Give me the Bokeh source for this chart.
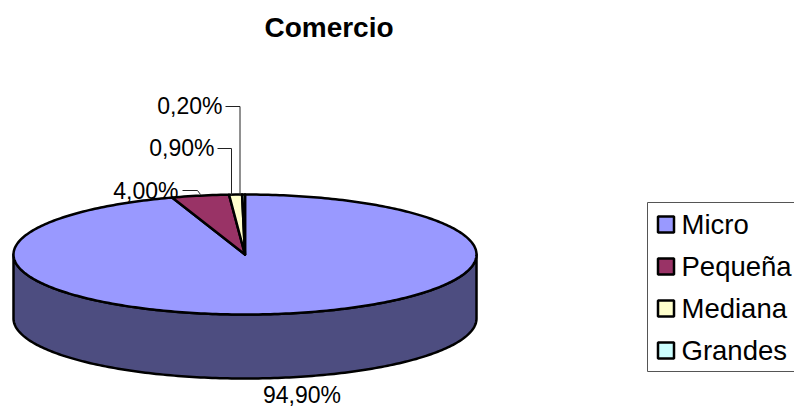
import numpy as np
from bokeh.plotting import figure
from bokeh.models import Range1d
from bokeh.core.properties import value
from bokeh.embed import file_html
from bokeh.resources import INLINE

title = "Comercio"
categories = ["Micro", "Pequeña", "Mediana", "Grandes"]
shares = [94.9, 4.0, 0.9, 0.2]
labels = ["94,90%", "4,00%", "0,90%", "0,20%"]
colors = ["#9999FF", "#993366", "#FFFFCC", "#CCFFFF"]
side_color = "#4D4D80"

FONT = value("Liberation Sans")
CX, CY, RX, RY, DEPTH = 244.5, 254, 231.5, 60, 64

p = figure(width=794, height=408, output_backend="svg", toolbar_location=None,
           x_range=Range1d(0, 794), y_range=Range1d(408, 0),
           x_axis_location=None, y_axis_location=None, min_border=0,
           outline_line_color=None, background_fill_color="white",
           border_fill_color="white")
p.grid.visible = False


def arc(a0, a1, dy=0.0):
    t = np.linspace(a0, a1, max(2, int(abs(a1 - a0) * 60)))
    return CX + RX * np.sin(t), CY + dy - RY * np.cos(t)


# side wall (visible lower half of the disc)
xa, ya = arc(np.pi / 2, 3 * np.pi / 2)
xb, yb = arc(3 * np.pi / 2, np.pi / 2, DEPTH)
p.patch(np.r_[xa, xb], np.r_[ya, yb], fill_color=side_color,
        line_color="black", line_width=2.5, line_join="round")

# top face wedges
cum = np.cumsum([0] + shares) / sum(shares) * 2 * np.pi
for i, c in enumerate(colors):
    xs, ys = arc(cum[i], cum[i + 1])
    p.patch(np.r_[CX, xs], np.r_[CY, ys], fill_color=c, line_color="black",
            line_width=2.5, line_join="round")

# leader lines
leader_color = "#222222"
p.line([182, 197, 200], [190, 190, 194], line_color=leader_color, line_width=1)
p.line([217, 231, 231], [148, 148, 195], line_color=leader_color, line_width=1)
p.line([225, 239.5, 239.5], [106, 106, 195], line_color=leader_color, line_width=1)

# data labels
p.text([301.5], [394], text=[labels[0]], text_font=FONT, text_font_size="23px",
       text_align="center", text_baseline="middle", text_color="black")
p.text([178], [190], text=[labels[1]], text_font=FONT, text_font_size="23px",
       text_align="right", text_baseline="middle", text_color="black")
p.text([214], [147], text=[labels[2]], text_font=FONT, text_font_size="23px",
       text_align="right", text_baseline="middle", text_color="black")
p.text([222], [105], text=[labels[3]], text_font=FONT, text_font_size="23px",
       text_align="right", text_baseline="middle", text_color="black")

# title
p.text([328.5], [27], text=[title], text_font=FONT, text_font_size="28px",
       text_font_style="bold", text_align="center", text_baseline="middle",
       text_color="black")

# legend
p.line([800, 647, 647, 800], [202, 202, 371, 371], line_color="#555555", line_width=1)
rows = [224, 266, 308, 350]
p.rect([665.5] * 4, rows, width=16, height=16, fill_color=colors,
       line_color="black", line_width=2.5)
p.text([681] * 4, rows, text=categories, text_font=FONT, text_font_size="27.5px",
       text_align="left", text_baseline="middle", text_color="black")

open("out.html", "w").write(file_html(p, INLINE))
